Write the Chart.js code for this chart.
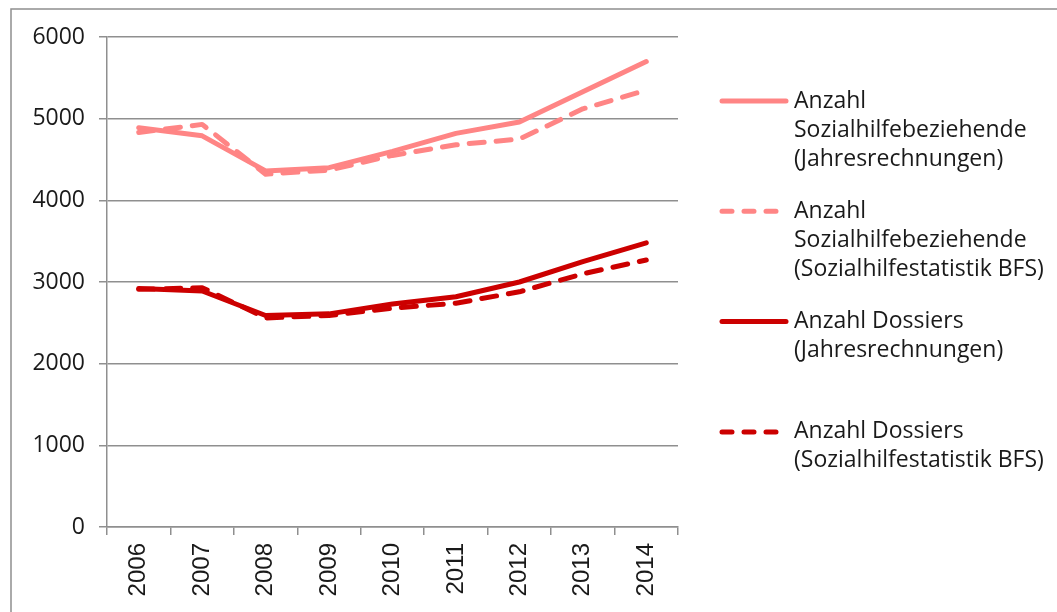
<!DOCTYPE html>
<html>
<head>
<meta charset="utf-8">
<script src="https://cdn.jsdelivr.net/npm/chart.js@4/dist/chart.umd.min.js"></script>
<style>
  html, body { margin: 0; padding: 0; background: #fff; }
  #wrap { width: 1057px; height: 612px; position: relative; }
</style>
</head>
<body>
<div id="wrap"><canvas id="chart" width="1057" height="612"></canvas></div>
<script>
const years = ["2006", "2007", "2008", "2009", "2010", "2011", "2012", "2013", "2014"]

const beziehendeJahresrechnungen = [4890, 4790, 4360, 4400, 4600, 4820, 4960, 5330, 5700]
const beziehendeBFS = [4830, 4930, 4320, 4370, 4550, 4680, 4750, 5120, 5350]
const dossiersJahresrechnungen = [2920, 2890, 2590, 2610, 2730, 2820, 3000, 3250, 3480]
const dossiersBFS = [2910, 2930, 2560, 2590, 2680, 2740, 2880, 3100, 3270]

const legendLines = [
  ["Anzahl", "Sozialhilfebeziehende", "(Jahresrechnungen)"],
  ["Anzahl", "Sozialhilfebeziehende", "(Sozialhilfestatistik BFS)"],
  ["Anzahl Dossiers", "(Jahresrechnungen)"],
  ["Anzahl Dossiers", "(Sozialhilfestatistik BFS)"]
]

const LIGHT = "#ff8585"
const DARK = "#cc0000"
const GRID = "#8f8f8f"
const TEXT_FONT = "'Open Sans', 'Noto Sans', sans-serif"

function series(i, data, color, dashed) {
  return {
    label: legendLines[i].join(" "),
    data,
    borderColor: color,
    backgroundColor: color,
    borderWidth: 5,
    borderDash: dashed ? [15, 12] : [],
    borderCapStyle: "round",
    borderJoinStyle: "round",
    pointRadius: 0,
    tension: 0,
    order: 4 - i
  }
}

// outer frame of the chart object (only top and left edges are visible)
const framePlugin = {
  id: "frame",
  beforeDraw(chart) {
    const ctx = chart.ctx
    ctx.save()
    ctx.strokeStyle = GRID
    ctx.lineWidth = 1.5
    ctx.strokeRect(11, 9, chart.width + 20, chart.height + 20)
    ctx.restore()
  }
}

// legend on the right with wrapped labels
const sideLegend = {
  id: "sideLegend",
  afterDraw(chart) {
    const ctx = chart.ctx
    ctx.save()
    chart.data.datasets.forEach((ds, i) => {
      const y = 101 + i * 110.3
      ctx.beginPath()
      ctx.strokeStyle = ds.borderColor
      ctx.lineWidth = 5
      ctx.lineCap = "round"
      ctx.setLineDash(ds.borderDash.length ? [10, 12] : [])
      ctx.moveTo(722, y)
      ctx.lineTo(786, y)
      ctx.stroke()
      ctx.setLineDash([])
      ctx.fillStyle = "#1a1a1a"
      ctx.font = "23px " + TEXT_FONT
      ctx.textBaseline = "middle"
      ctx.textAlign = "left"
      legendLines[i].forEach((line, j) => ctx.fillText(line, 794, y + j * 29))
    })
    ctx.restore()
  }
}

new Chart(document.getElementById("chart"), {
  type: "line",
  data: {
    labels: years,
    datasets: [
      series(0, beziehendeJahresrechnungen, LIGHT, false),
      series(1, beziehendeBFS, LIGHT, true),
      series(2, dossiersJahresrechnungen, DARK, false),
      series(3, dossiersBFS, DARK, true)
    ]
  },
  options: {
    responsive: false,
    animation: false,
    layout: { padding: { top: 37, right: 379, left: 0, bottom: 0 } },
    plugins: { legend: { display: false }, tooltip: { enabled: false } },
    scales: {
      x: {
        offset: true,
        grid: { offset: true, drawOnChartArea: false, drawTicks: true, tickLength: 8, color: GRID, lineWidth: 1.5 },
        border: { color: GRID, width: 1.5 },
        ticks: {
          minRotation: 90, maxRotation: 90, padding: 8, color: "#1a1a1a",
          font: { family: "'Liberation Sans', Arial, sans-serif", size: 24 }
        },
        afterFit(scale) { scale.height = 85 }
      },
      y: {
        min: 0, max: 6000,
        ticks: {
          stepSize: 1000, padding: 14, color: "#1a1a1a",
          font: { family: TEXT_FONT, size: 23 },
          callback: v => String(v)
        },
        grid: { color: GRID, lineWidth: 1.5, tickLength: 8 },
        border: { color: GRID, width: 1.5 },
        afterFit(scale) { scale.width = 107 }
      }
    }
  },
  plugins: [framePlugin, sideLegend]
})
</script>
</body>
</html>
